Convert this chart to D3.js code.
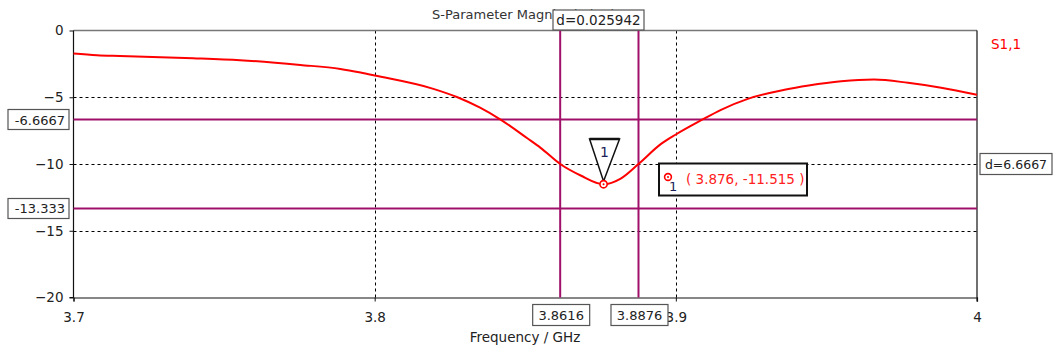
<!DOCTYPE html>
<html>
<head>
<meta charset="utf-8">
<script src="https://cdn.jsdelivr.net/npm/d3@7"></script>
<style>
  html, body { margin: 0; padding: 0; background: #fff; }
  svg { display: block; font-family: "DejaVu Sans", sans-serif; }
</style>
</head>
<body>
<svg id="chart" width="1059" height="354"></svg>
<script>
// S11 magnitude (dB) versus frequency (GHz)
const freq = [3.700, 3.7078, 3.7154, 3.7397, 3.7553, 3.7753, 3.7886, 3.7953, 3.800, 3.8195, 3.8275,
              3.835, 3.8418, 3.8508, 3.8551, 3.8616, 3.8684, 3.876, 3.8817, 3.8876, 3.8951, 3.900,
              3.9083, 3.915, 3.9239, 3.9361, 3.9441, 3.9549, 3.9658, 3.9771, 3.9881, 4.000];
const s11 = [-1.72, -1.85, -1.91, -2.07, -2.22, -2.58, -2.88, -3.15, -3.37, -4.37, -5.00,
             -5.78, -6.67, -8.09, -8.79, -10.0, -10.86, -11.515, -11.09, -10.0, -8.49, -7.79,
             -6.74, -5.94, -5.12, -4.44, -4.12, -3.80, -3.67, -3.92, -4.29, -4.82];

const xTicks = [3.7, 3.8, 3.9, 4];
const yTicks = [0, -5, -10, -15, -20];
const markerFreqs = [3.8616, 3.8876];
const markerLevels = [-6.6667, -13.333];
const markerFreqLabels = ["3.8616", "3.8876"];
const markerLevelLabels = ["-6.6667", "-13.333"];
const deltaFreqLabel = "d=0.025942";
const deltaLevelLabel = "d=6.6667";
const point1 = { f: 3.876, v: -11.515 };

const svg = d3.select("#chart");
const x = d3.scaleLinear().domain([3.7, 4]).range([73.5, 977]);
const y = d3.scaleLinear().domain([0, -20]).range([30.5, 297.5]);
const purple = "#a0106a";
const textCol = "#222";

// grid
const grid = svg.append("g");
grid.selectAll("line.gx").data(xTicks.slice(1, -1)).join("line")
  .attr("x1", d => Math.round(x(d)) + 0.5).attr("x2", d => Math.round(x(d)) + 0.5)
  .attr("y1", y(0)).attr("y2", y(-20))
  .attr("stroke", "#000").attr("stroke-width", 1).attr("stroke-dasharray", "3,3");
grid.selectAll("line.gy").data(yTicks.slice(1, -1)).join("line")
  .attr("x1", x(3.7)).attr("x2", x(4))
  .attr("y1", d => Math.round(y(d)) + 0.5).attr("y2", d => Math.round(y(d)) + 0.5)
  .attr("stroke", "#000").attr("stroke-width", 1).attr("stroke-dasharray", "3,3");

// frame
svg.append("line").attr("x1", x(3.7)).attr("x2", x(4)).attr("y1", y(0)).attr("y2", y(0))
  .attr("stroke", "#777").attr("stroke-width", 1.5);
svg.append("line").attr("x1", x(4)).attr("x2", x(4)).attr("y1", y(0)).attr("y2", y(-20) + 4)
  .attr("stroke", "#111").attr("stroke-width", 1.2);

// axes
const yAxis = d3.axisLeft(y).tickValues(yTicks).tickSize(4).tickPadding(6).tickFormat(d3.format("d"));
const gy = svg.append("g").attr("transform", `translate(${x(3.7)},0)`).call(yAxis);
const xAxis = d3.axisBottom(x).tickValues(xTicks).tickSize(4).tickPadding(11).tickFormat(d => String(d));
const gx = svg.append("g").attr("transform", `translate(0,${y(-20)})`).call(xAxis);
[gx, gy].forEach(g => {
  g.select(".domain").attr("stroke", "#111").attr("stroke-width", 1.2);
  g.selectAll(".tick line").attr("stroke", "#111");
  g.selectAll("text").attr("fill", textCol).style("font-size", "13.5px").style("font-family", "DejaVu Sans, sans-serif");
});
gy.select(".domain").attr("d", `M-4,${y(-20)}H0V${y(0)}`);

// marker lines
svg.selectAll("line.mv").data(markerFreqs).join("line")
  .attr("x1", d => x(d)).attr("x2", d => x(d)).attr("y1", y(0)).attr("y2", y(-20))
  .attr("stroke", purple).attr("stroke-width", 2);
svg.selectAll("line.mh").data(markerLevels).join("line")
  .attr("x1", x(3.7)).attr("x2", x(4)).attr("y1", d => y(d)).attr("y2", d => y(d))
  .attr("stroke", purple).attr("stroke-width", 2);

// curve
const line = d3.line().x((d, i) => x(freq[i])).y(d => y(d)).curve(d3.curveMonotoneX);
svg.append("path").attr("d", line(s11)).attr("fill", "none")
  .attr("stroke", "#ff0000").attr("stroke-width", 2);

// boxed labels
function box(cx, cy, w, h, label, anchor, opts = {}) {
  const g = svg.append("g");
  g.append("rect").attr("x", cx - w / 2).attr("y", cy - h / 2).attr("width", w).attr("height", h)
    .attr("fill", "#fff").attr("stroke", opts.stroke || "#555").attr("stroke-width", opts.sw || 1.2);
  g.append("text").attr("x", anchor === "end" ? cx + w / 2 - 4 : cx).attr("y", cy + 5)
    .attr("text-anchor", anchor || "middle").attr("fill", opts.fill || textCol)
    .style("font-size", (opts.size || 13.5) + "px").text(label);
  return g;
}

// title (partly covered by the frequency delta box)
svg.append("text").attr("x", 432).attr("y", 19).attr("fill", "#333")
  .style("font-size", "13px").text("S-Parameter Magnitude in dB");

box((553 + 644) / 2, 20, 91, 20, deltaFreqLabel, "middle");
markerLevels.forEach((v, i) => box(38.5, y(v), 61, 20, markerLevelLabels[i], "end", { size: 13 }));
markerFreqs.forEach((f, i) => box(x(f) + 1, 315, 57, 21, markerFreqLabels[i], "middle", { size: 13 }));
box(1016, 164, 72, 21, deltaLevelLabel, "middle", { size: 12.5 });

// axis title and legend
svg.append("text").attr("x", 525).attr("y", 342).attr("text-anchor", "middle").attr("fill", textCol)
  .style("font-size", "13.5px").text("Frequency / GHz");
svg.append("text").attr("x", 991).attr("y", 49).attr("fill", "#ff0000")
  .style("font-size", "13.5px").text("S1,1");

// marker 1
const px = x(point1.f), py = y(point1.v);
svg.append("path")
  .attr("d", `M${px - 14},${139}L${px + 16},${139}L${px},${py - 3}Z`)
  .attr("fill", "#fff").attr("stroke", "#111").attr("stroke-width", 1.5);
svg.append("line").attr("x1", px - 14).attr("x2", px + 16).attr("y1", 139).attr("y2", 139)
  .attr("stroke", "#111").attr("stroke-width", 2.5);
svg.append("text").attr("x", px + 1).attr("y", 157).attr("text-anchor", "middle")
  .attr("fill", "#1b1f5a").style("font-size", "14px").text("1");
svg.append("circle").attr("cx", px).attr("cy", py).attr("r", 3.6)
  .attr("fill", "#fff").attr("stroke", "#ff0000").attr("stroke-width", 1.6);
svg.append("circle").attr("cx", px).attr("cy", py).attr("r", 1).attr("fill", "#ff0000");

// marker readout
const rb = svg.append("g");
rb.append("rect").attr("x", 659).attr("y", 163.5).attr("width", 148).attr("height", 32)
  .attr("fill", "#fff").attr("stroke", "#111").attr("stroke-width", 2);
rb.append("circle").attr("cx", 668).attr("cy", 177).attr("r", 3.4)
  .attr("fill", "#fff").attr("stroke", "#ff0000").attr("stroke-width", 1.6);
rb.append("circle").attr("cx", 668).attr("cy", 177).attr("r", 1).attr("fill", "#ff0000");
rb.append("text").attr("x", 669).attr("y", 191).attr("fill", "#1b1f5a")
  .style("font-size", "13px").text("1");
rb.append("text").attr("x", 686).attr("y", 184).attr("fill", "#ff2020")
  .style("font-size", "13.5px").text(`( ${point1.f}, ${point1.v} )`);
</script>
</body>
</html>
